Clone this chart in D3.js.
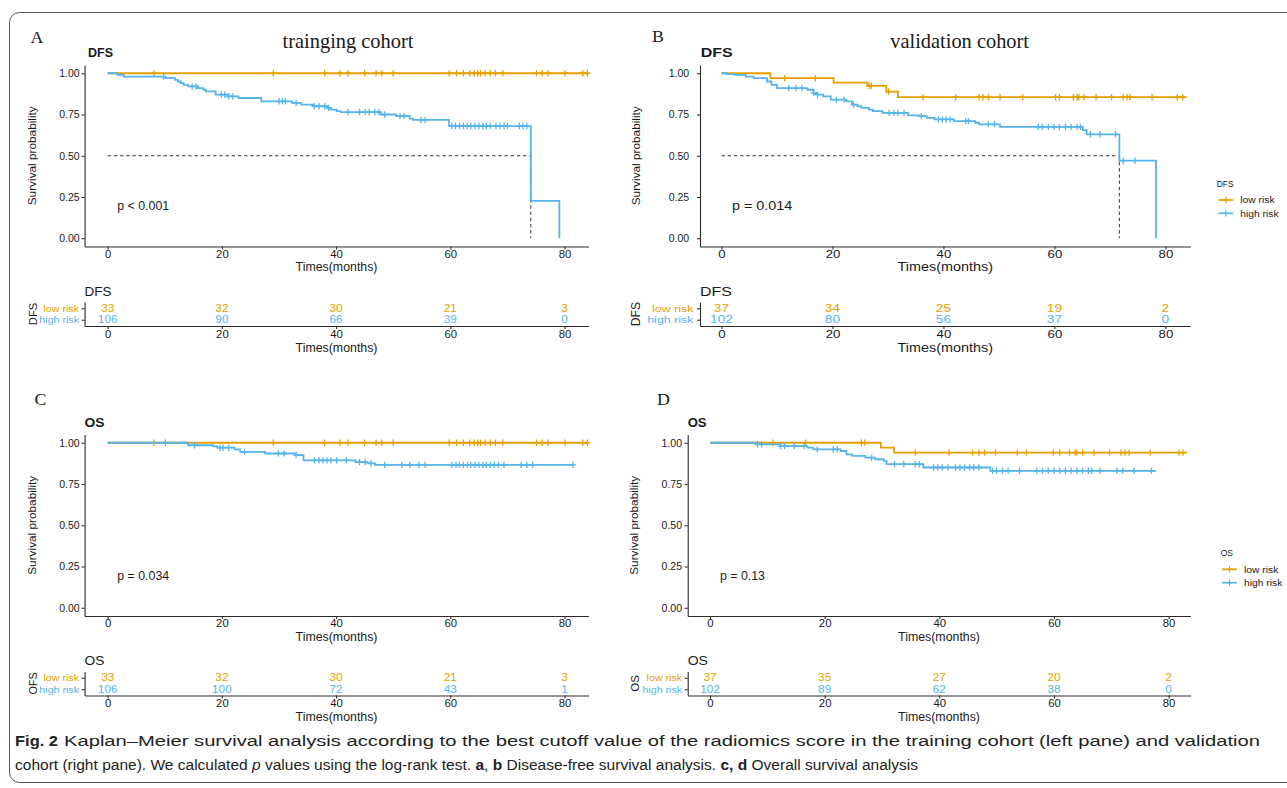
<!DOCTYPE html>
<html><head><meta charset="utf-8">
<script src="https://cdn.jsdelivr.net/npm/d3@7"></script>
<style>body{margin:0;background:#fff;} svg{display:block;}</style>
</head><body>
<svg id="c" width="1287" height="788"></svg>
<script>
// ---------------- DATA ----------------
const timeTicks = [0, 20, 40, 60, 80];
const survTicks = [0, 0.25, 0.5, 0.75, 1];
const groups = ["low risk", "high risk"];
const groupColors = ["#E69F00", "#56B4E9"];

// Panel A: DFS, training cohort
const A_low_steps = [[0, 1]];
const A_low_end = 84.2;
const A_low_censor = [8.1, 29.0, 38.0, 40.7, 42.1, 45.0, 47.0, 48.0, 50.0, 59.8, 61.1, 62.3, 63.4, 64.2, 64.8, 65.3, 66.1, 67.0, 67.9, 69.2, 75.1, 76.1, 77.1, 80.1, 83.2, 84.0];
const A_high_steps = [[0, 1], [1.7, 0.99], [2.8, 0.98], [10.1, 0.97], [11.8, 0.96], [12.3, 0.95], [12.8, 0.94], [13.3, 0.93], [14.1, 0.92], [15.8, 0.91], [16.8, 0.90], [17.2, 0.89], [18.9, 0.87], [21.2, 0.86], [22.9, 0.85], [26.9, 0.83], [32.3, 0.82], [33.9, 0.81], [36.0, 0.80], [38.4, 0.79], [39.1, 0.78], [40.1, 0.77], [40.8, 0.765], [47.8, 0.75], [50.5, 0.74], [52.9, 0.725], [53.5, 0.717], [59.8, 0.68], [74.1, 0.227], [79.1, 0]];
const A_high_end = 79.1;
const A_high_censor = [9.8, 14.8, 15.5, 19.9, 20.5, 21.2, 21.9, 30.0, 30.6, 31.1, 33.0, 36.2, 37.0, 38.0, 38.7, 42.1, 44.1, 45.1, 45.8, 46.8, 47.5, 48.5, 51.2, 51.9, 54.9, 55.6, 60.3, 60.9, 61.6, 62.3, 63.0, 63.6, 64.3, 65.0, 65.7, 66.3, 67.0, 68.0, 68.7, 69.4, 70.0, 72.1, 72.7, 73.4];
const A_risk_low = [33, 32, 30, 21, 3];
const A_risk_high = [106, 90, 66, 39, 0];
const A_pvalue = "p < 0.001";

// Panel B: DFS, validation cohort
const B_low_steps = [[0, 1], [8.8, 0.97], [20.2, 0.943], [26.3, 0.923], [29.7, 0.889], [31.8, 0.855]];
const B_low_end = 83.8;
const B_low_censor = [11.4, 16.9, 26.6, 27.0, 30.1, 36.3, 42.2, 46.4, 47.1, 48.1, 50.2, 54.3, 60.2, 60.9, 63.4, 64.1, 64.4, 65.3, 67.5, 70.3, 72.4, 73.1, 73.6, 77.6, 82.1, 83.1];
const B_high_steps = [[0, 1], [1.0, 0.995], [2.4, 0.99], [4.4, 0.98], [5.8, 0.97], [8.2, 0.95], [9.0, 0.93], [10.0, 0.91], [15.5, 0.90], [16.6, 0.88], [17.3, 0.87], [18.3, 0.86], [19.7, 0.84], [22.5, 0.83], [23.5, 0.81], [24.5, 0.80], [25.2, 0.79], [26.6, 0.78], [27.3, 0.77], [29.0, 0.76], [33.6, 0.745], [35.6, 0.74], [37.0, 0.73], [38.4, 0.72], [41.9, 0.71], [45.7, 0.70], [46.4, 0.69], [50.2, 0.675], [65.1, 0.655], [65.8, 0.63], [71.7, 0.47], [78.3, 0]];
const B_high_end = 78.3;
const B_high_censor = [12.1, 13.4, 14.5, 16.6, 17.3, 20.7, 22.1, 23.8, 30.2, 31.1, 31.8, 32.9, 36.0, 39.1, 39.8, 40.5, 41.2, 44.0, 44.5, 48.1, 49.2, 57.1, 57.8, 58.9, 59.9, 60.9, 62.0, 63.0, 64.1, 64.7, 66.5, 68.2, 71.0, 72.4, 74.5];
const B_risk_low = [37, 34, 25, 19, 2];
const B_risk_high = [102, 80, 56, 37, 0];
const B_pvalue = "p = 0.014";

// Panel C: OS, training cohort
const C_low_steps = [[0, 1]];
const C_low_end = 84.2;
const C_low_censor = [8.1, 29.0, 38.0, 40.7, 42.1, 45.0, 47.0, 48.0, 50.0, 59.8, 61.1, 62.3, 63.4, 64.2, 64.8, 65.3, 66.1, 67.0, 67.9, 69.2, 75.1, 76.1, 77.1, 80.1, 83.2, 84.0];
const C_high_steps = [[0, 1], [14.1, 0.985], [18.5, 0.978], [19.2, 0.97], [22.2, 0.96], [23.2, 0.945], [27.6, 0.935], [33.0, 0.925], [34.3, 0.893], [43.4, 0.883], [45.5, 0.875], [46.8, 0.866]];
const C_high_end = 81.5;
const C_high_censor = [10.1, 15.2, 19.7, 20.2, 21.2, 24.0, 29.9, 30.9, 33.0, 36.2, 37.0, 37.7, 38.4, 39.1, 40.1, 41.8, 44.1, 45.1, 46.1, 48.5, 51.5, 52.9, 54.5, 55.6, 60.3, 61.0, 61.6, 62.3, 63.0, 63.6, 64.3, 65.0, 65.7, 66.3, 67.0, 67.7, 68.4, 69.4, 72.4, 73.4, 74.4, 81.5];
const C_risk_low = [33, 32, 30, 21, 3];
const C_risk_high = [106, 100, 72, 43, 1];
const C_pvalue = "p = 0.034";

// Panel D: OS, validation cohort
const D_low_steps = [[0, 1], [29.8, 0.97], [32.1, 0.94]];
const D_low_end = 83.2;
const D_low_censor = [11.0, 16.7, 26.4, 27.0, 35.8, 41.7, 45.8, 46.9, 47.9, 49.8, 53.6, 55.2, 59.9, 61.0, 62.7, 63.7, 64.0, 65.0, 67.0, 69.7, 71.7, 72.4, 73.1, 76.8, 81.8, 82.5];
const D_high_steps = [[0, 1], [8.3, 0.99], [12.3, 0.98], [17.0, 0.97], [18.0, 0.96], [22.8, 0.95], [23.8, 0.93], [24.8, 0.92], [27.1, 0.91], [28.8, 0.90], [30.3, 0.89], [30.8, 0.87], [37.2, 0.85], [48.9, 0.83]];
const D_high_end = 77.8;
const D_high_censor = [8.3, 9.0, 12.3, 13.0, 14.7, 16.4, 18.7, 21.5, 22.2, 28.2, 32.2, 33.8, 35.8, 36.5, 39.0, 39.7, 40.5, 41.5, 42.8, 43.6, 44.4, 45.3, 46.0, 46.9, 49.3, 50.0, 51.0, 52.0, 54.0, 57.0, 58.0, 59.0, 60.0, 61.0, 62.0, 63.0, 64.0, 65.0, 66.0, 66.6, 68.0, 71.0, 72.0, 74.0, 77.0];
const D_risk_low = [37, 35, 27, 20, 2];
const D_risk_high = [102, 89, 62, 38, 0];
const D_pvalue = "p = 0.13";

// ---------------- DRAWING ----------------
const svg = d3.select("#c");
const SANS = "'Liberation Sans', Arial, Helvetica, sans-serif";
const SERIF = "'Liberation Serif', 'Times New Roman', serif";
const INK = "#1a1a1a";

function T(g, x, y, str, o = {}) {
  let tr = `translate(${x},${y})`;
  if (o.rot) tr += ` rotate(${o.rot})`;
  if (o.sx && o.sx !== 1) tr += ` scale(${o.sx},1)`;
  return g.append("text")
    .attr("transform", tr)
    .attr("font-family", o.family || SANS)
    .attr("font-size", o.size || 11)
    .attr("font-weight", o.weight || "normal")
    .attr("text-anchor", o.anchor || "start")
    .attr("fill", o.fill || INK)
    .text(str);
}

function survAt(steps, t) {
  let s = steps[0][1];
  for (const [ti, si] of steps) { if (ti <= t) s = si; else break; }
  return s;
}
function medianOf(steps) { const f = steps.find(d => d[1] <= 0.5); return f ? f[0] : null; }

// outer rounded frame
svg.append("rect").attr("x", 9.5).attr("y", 12.5).attr("width", 1300).attr("height", 770)
  .attr("rx", 10).attr("fill", "none").attr("stroke", "#555").attr("stroke-width", 1);

const panels = [
  { letter: "A", letterX: 30.5, letterY: 42.7, head: "trainging cohort", headX: 348, endpoint: "DFS", endX: 88, endSx: 0.98,
    dy: 0, axisX: 84.6, rightX: 588.5, xDom: [-4.04, 84.2], sx: 1.03, yLabGap: 5, yTitleX: 36, riskLab: "DFS", riskLabX: 36.5, riskLabSize: 11.2,
    riskTitle: "DFS", riskTitleSx: 1.04, showMedian: true,
    low: [A_low_steps, A_low_end, A_low_censor], high: [A_high_steps, A_high_end, A_high_censor], risk: [A_risk_low, A_risk_high], p: A_pvalue, pX: 117.3 },
  { letter: "B", letterX: 652, letterY: 42, head: "validation cohort", headX: 959.6, endpoint: "DFS", endX: 700.8, endSx: 1.25,
    dy: 0, axisX: 700, rightX: 1190.4, xDom: [-3.87, 84.5], sx: 1.2, yLabGap: 10.8, yTitleX: 640, riskLab: "DFS", riskLabX: 640, riskLabSize: 12.2,
    riskTitle: "DFS", riskTitleSx: 1.23, showMedian: true,
    low: [B_low_steps, B_low_end, B_low_censor], high: [B_high_steps, B_high_end, B_high_censor], risk: [B_risk_low, B_risk_high], p: B_pvalue, pX: 731.9,
    legend: { title: "DFS", x: 1216.7, y: 186.5, lx: 1218.3, ly: [200, 213.3] } },
  { letter: "C", letterX: 34.6, letterY: 405, head: null, endpoint: "OS", endX: 84.6, endSx: 1.08,
    dy: 369.5, axisX: 84.6, rightX: 588.5, xDom: [-4.04, 84.2], sx: 1.03, yLabGap: 5, yTitleX: 36, riskLab: "OFS", riskLabX: 36.5, riskLabSize: 10.8,
    riskTitle: "OS", riskTitleSx: 1.06, showMedian: false,
    low: [C_low_steps, C_low_end, C_low_censor], high: [C_high_steps, C_high_end, C_high_censor], risk: [C_risk_low, C_risk_high], p: C_pvalue, pX: 117.3 },
  { letter: "D", letterX: 657, letterY: 405, head: null, endpoint: "OS", endX: 687.7, endSx: 1.02,
    dy: 369.5, axisX: 687.7, rightX: 1190.4, xDom: [-3.89, 83.8], sx: 1.03, yLabGap: 5.7, yTitleX: 638, riskLab: "OS", riskLabX: 638.5, riskLabSize: 11.5,
    riskTitle: "OS", riskTitleSx: 1.08, showMedian: false,
    low: [D_low_steps, D_low_end, D_low_censor], high: [D_high_steps, D_high_end, D_high_censor], risk: [D_risk_low, D_risk_high], p: D_pvalue, pX: 720,
    legend: { title: "OS", x: 1220.7, y: 556, lx: 1222, ly: [569.3, 582.7] } }
];

function styleAxis(g, size, sx, fills) {
  g.attr("font-family", SANS).attr("font-size", size);
  g.select(".domain").attr("stroke", "#2b2b2b").attr("stroke-width", 1.1);
  g.selectAll(".tick line").attr("stroke", "#2b2b2b").attr("stroke-width", 1.1);
  g.selectAll(".tick text").attr("fill", (d, i) => fills ? fills[i] : INK)
    .attr("transform", sx !== 1 ? `scale(${sx},1)` : null);
}

const plusPath = "M-3,0H3M0,-3.2V3.2";

panels.forEach(P => {
  const g = svg.append("g");
  const dy = P.dy;
  const yTop = 65 + dy, yBot = 246.5 + dy;
  const x = d3.scaleLinear().domain(P.xDom).range([P.axisX, P.rightX]);
  const y = d3.scaleLinear().domain([-0.05, 1.05]).range([yBot, yTop]);

  // letter & heading
  T(g, P.letterX, P.letterY, P.letter, { family: SERIF, size: 17, sx: 1.05 });
  if (P.head) T(g, P.headX, 48.3, P.head, { family: SERIF, size: 20.4, anchor: "middle" });
  T(g, P.endX, 57 + dy, P.endpoint, { size: 12.8, weight: "bold", sx: P.endSx });

  // axes
  const gx = g.append("g").attr("transform", `translate(0,${yBot})`)
    .call(d3.axisBottom(x).tickValues(timeTicks).tickSize(3).tickSizeOuter(0).tickPadding(0.5).tickFormat(d3.format("d")));
  styleAxis(gx, 11, P.sx);
  const gy = g.append("g").attr("transform", `translate(${P.axisX},0)`)
    .call(d3.axisLeft(y).tickValues(survTicks).tickSize(3).tickSizeOuter(0).tickPadding(P.yLabGap - 3).tickFormat(d3.format(".2f")));
  styleAxis(gy, 10.5, 1);

  T(g, (P.axisX + P.rightX) / 2, 271 + dy, "Times(months)", { size: 12, anchor: "middle", sx: P.sx });
  T(g, P.yTitleX, (yTop + yBot) / 2, "Survival probability", { size: 11.8, anchor: "middle", rot: -90 });

  // median line
  if (P.showMedian) {
    const m = medianOf(P.high[0]);
    g.append("path")
      .attr("d", `M${x(0)},${y(0.5)}H${x(m)}M${x(m)},${y(0.5)}V${y(0)}`)
      .attr("fill", "none").attr("stroke", "#333").attr("stroke-width", 1).attr("stroke-dasharray", "3.4,2.8");
  }

  // curves
  const line = d3.line().x(d => x(d[0])).y(d => y(d[1])).curve(d3.curveStepAfter);
  [P.low, P.high].forEach((c, gi) => {
    const [steps, end, cens] = c;
    const pts = steps.concat([[end, steps[steps.length - 1][1]]]);
    g.append("path").attr("d", line(pts)).attr("fill", "none")
      .attr("stroke", groupColors[gi]).attr("stroke-width", 1.8);
    g.selectAll(null).data(cens).enter().append("path")
      .attr("transform", t => `translate(${x(t)},${y(survAt(steps, t))})`)
      .attr("d", plusPath).attr("stroke", groupColors[gi]).attr("stroke-width", 1.3).attr("fill", "none");
  });

  T(g, P.pX, 210 + dy, P.p, { size: 12, sx: P.sx });

  // risk table
  const rTop = 302 + dy, rBot = 326 + dy;
  const ry = d3.scalePoint().domain(groups).range([rTop, rBot]).padding(0.55);
  T(g, P.axisX, 295.5 + dy, P.riskTitle, { size: 13, sx: P.riskTitleSx });
  const rgx = g.append("g").attr("transform", `translate(0,${rBot})`)
    .call(d3.axisBottom(x).tickValues(timeTicks).tickSize(3).tickSizeOuter(0).tickPadding(1).tickFormat(d3.format("d")));
  styleAxis(rgx, 11, P.sx);
  const rgy = g.append("g").attr("transform", `translate(${P.axisX},0)`)
    .call(d3.axisLeft(ry).tickSize(3).tickSizeOuter(0).tickPadding(2));
  styleAxis(rgy, 9.6, P.sx * 1.08, groupColors);
  P.risk.forEach((vals, gi) => {
    g.selectAll(null).data(vals).enter().append("text")
      .attr("transform", (v, i) => `translate(${x(timeTicks[i])},${ry(groups[gi]) + 3.7}) scale(${P.sx * 1.1},1)`)
      .attr("font-family", SANS).attr("font-size", 10.4).attr("text-anchor", "middle")
      .attr("fill", groupColors[gi]).text(v => v);
  });
  T(g, (P.axisX + P.rightX) / 2, 351.5 + dy, "Times(months)", { size: 12, anchor: "middle", sx: P.sx });
  T(g, P.riskLabX, (rTop + rBot) / 2, P.riskLab, { size: P.riskLabSize, anchor: "middle", rot: -90 });

  // legend
  if (P.legend) {
    const L = P.legend;
    T(svg, L.x, L.y, L.title, { size: 8.5 });
    groups.forEach((gname, gi) => {
      const ly = L.ly[gi];
      svg.append("line").attr("x1", L.lx).attr("x2", L.lx + 15).attr("y1", ly).attr("y2", ly)
        .attr("stroke", groupColors[gi]).attr("stroke-width", 1.7);
      svg.append("path").attr("transform", `translate(${L.lx + 7.5},${ly})`).attr("d", plusPath)
        .attr("stroke", groupColors[gi]).attr("stroke-width", 1.2);
      T(svg, L.lx + 22, ly + 3.2, gname, { size: 9.2, sx: 1.12 });
    });
  }
});

// caption
const CAP = "'Liberation Sans', Arial, sans-serif";
svg.append("text").attr("x", 15).attr("y", 746).attr("font-family", CAP).attr("font-size", 15.5)
  .attr("font-weight", "bold").attr("fill", "#222").attr("textLength", 43).attr("lengthAdjust", "spacingAndGlyphs").text("Fig. 2");
svg.append("text").attr("x", 64).attr("y", 746).attr("font-family", CAP).attr("font-size", 15.5)
  .attr("fill", "#222").attr("textLength", 1196).attr("lengthAdjust", "spacingAndGlyphs")
  .text("Kaplan\u2013Meier survival analysis according to the best cutoff value of the radiomics score in the training cohort (left pane) and validation");
const c2 = svg.append("text").attr("x", 15).attr("y", 769.5).attr("font-family", CAP).attr("font-size", 15.5)
  .attr("fill", "#222").attr("textLength", 903).attr("lengthAdjust", "spacingAndGlyphs");
[["cohort (right pane). We calculated ", null, null], ["p", "italic", null], [" values using the log-rank test. ", null, null],
 ["a", null, "bold"], [", ", null, null], ["b", null, "bold"], [" Disease-free survival analysis. ", null, null],
 ["c, d", null, "bold"], [" Overall survival analysis", null, null]].forEach(([s, st, w]) => {
  const t = c2.append("tspan").text(s);
  if (st) t.attr("font-style", st);
  if (w) t.attr("font-weight", w);
});
</script>
</body></html>
